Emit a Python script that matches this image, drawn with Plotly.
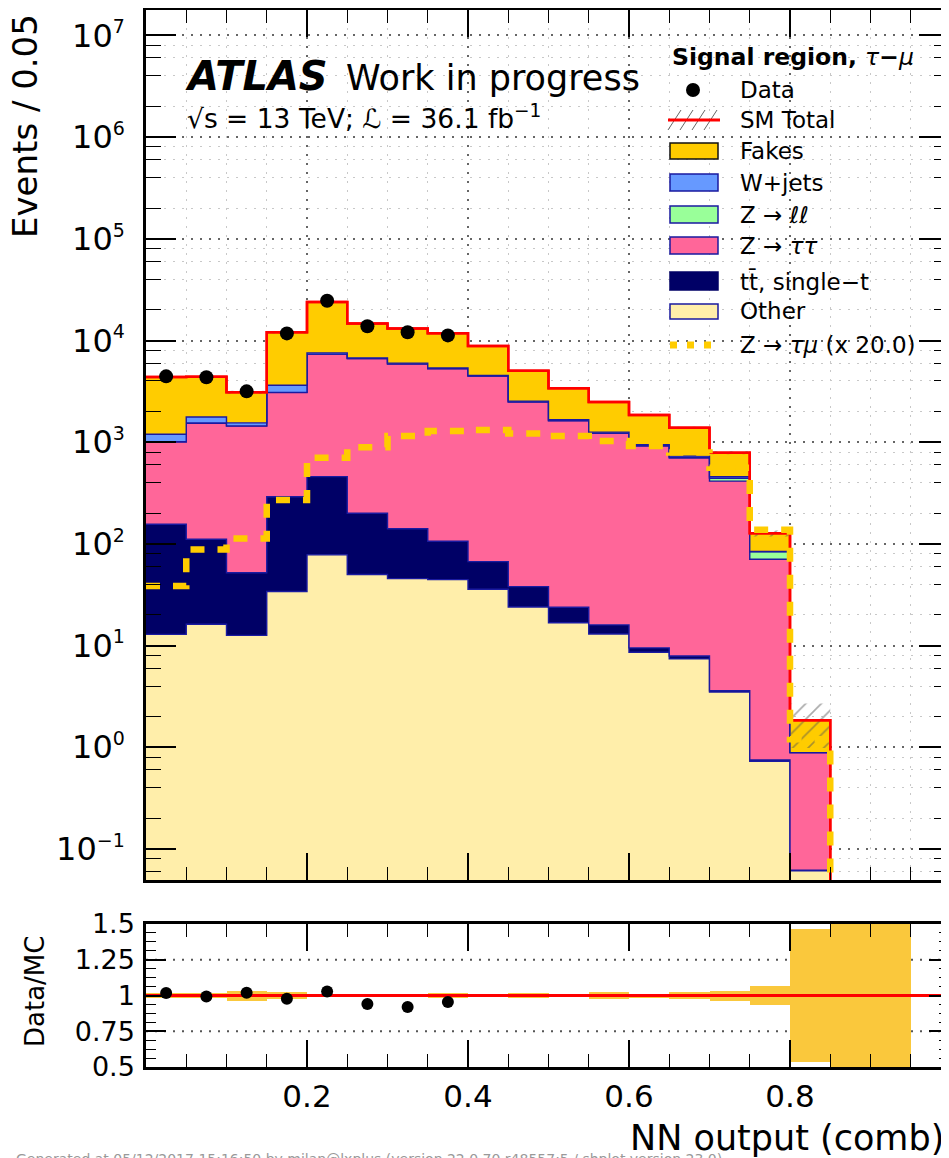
import numpy as np
import plotly.graph_objects as go

# ---------------- data ----------------
bin_edges = [0.00, 0.05, 0.10, 0.15, 0.20, 0.25, 0.30, 0.35, 0.40, 0.45, 0.50,
             0.55, 0.60, 0.65, 0.70, 0.75, 0.80, 0.85, 0.90, 0.95, 1.00]

other = [12.9, 16.2, 12.6, 34, 78, 50, 45.6, 44.5, 35.8, 24, 16.8, 13, 8.6, 7.4, 3.5, 0.73, 0.061, 0, 0, 0]
ttbar = [143, 95, 39.4, 257, 381, 150, 95.4, 61.5, 31.2, 14, 7, 3, 0.9, 0.5, 0.1, 0.02, 0.001, 0, 0, 0]
ztautau = [849, 1424, 1388, 2779, 6851, 6430, 5739, 5164, 4393, 2442, 1596, 1204, 908, 692, 411, 69.9, 0.825, 0, 0, 0]
zll = [8, 10, 8, 20, 30, 25, 20, 18, 15, 12, 10, 10, 8, 10, 27, 13, 0, 0, 0, 0]
wjets = [183, 225, 102, 540, 210, 100, 90, 80, 70, 45, 35, 25, 20, 20, 16, 0.5, 0, 0, 0, 0]
fakes = [3174, 2620, 1550, 8400, 16350, 7945, 7110, 6392, 4285, 2493, 1725, 1230, 904, 660, 332, 42.9, 0.953, 0, 0, 0]

data = [4444, 4359, 3162, 11750, 24570, 13820, 12050, 11220, None, None,
        None, None, None, None, None, None, None, None, None, None]

signal_x20 = [38.5, 88, 113, 270, 705, 890, 1150, 1290, 1320, 1215, 1150, 1025, 918, 790, 560, 138, 1.2, 0, 0, 0]

mc_rel_err = [0.019, 0.019, 0.035, 0.024, 0.009, 0.007, 0.007, 0.02, 0.01, 0.015,
              0.013, 0.025, 0.014, 0.023, 0.035, 0.069, 0.465, 1.0, 1.0, 0.0]

y_tick_vals = [1e-1, 1e0, 1e1, 1e2, 1e3, 1e4, 1e5, 1e6, 1e7]
y_tick_exps = ["−1", "0", "1", "2", "3", "4", "5", "6", "7"]
x_tick_vals = [0.2, 0.4, 0.6, 0.8]
x_tick_text = ["0.2", "0.4", "0.6", "0.8"]
r_tick_vals = [0.5, 0.75, 1.0, 1.25, 1.5]
r_tick_text = ["0.5", "0.75", "1", "1.25", "1.5"]

# ---------------- geometry helpers (page pixels -> paper) ----------------
OFF = 8                      # default body margin of the page
W, H = 949 - OFF, 1158 - OFF
ML, MR = 146 - OFF, 0
MT = 10 - OFF
MB = H - (1067 - OFF)
PW, PH = W - ML - MR, H - MT - MB


def px(x):
    return (x - OFF - ML) / PW


def py(y):
    return (H - MB - (y - OFF)) / PH


FLOOR = 1e-4
FONT = "DejaVu Sans"

centers = [(a + b) / 2 for a, b in zip(bin_edges[:-1], bin_edges[1:])]


def step_y(vals):
    v = [max(float(a), FLOOR) for a in vals]
    return v + [v[-1]]


components = [other, ttbar, ztautau, zll, wjets, fakes]
colors = ["#FFEEAA", "#000066", "#FF6699", "#99FF99", "#6699FF", "#FFCC00"]
cum = np.cumsum(np.array(components, dtype=float), axis=0)
total = cum[-1]

fig = go.Figure()

fig.add_trace(go.Scatter(x=bin_edges, y=[FLOOR] * len(bin_edges), mode="lines",
                         line=dict(width=0), line_shape="hv", hoverinfo="skip",
                         showlegend=False, xaxis="x", yaxis="y"))
for i, (c, col) in enumerate(zip(cum, colors)):
    last = i == len(cum) - 1
    fig.add_trace(go.Scatter(
        x=bin_edges, y=step_y(c), mode="lines", line_shape="hv",
        line=dict(color="#FF0000" if last else "#1a1aa0", width=2.5 if last else 1.4),
        fill="tonexty", fillcolor=col, showlegend=False, xaxis="x", yaxis="y"))

lower = [t * (1 - e) if t > 0 else 0 for t, e in zip(total, mc_rel_err)]
upper = [t * (1 + e) if t > 0 else 0 for t, e in zip(total, mc_rel_err)]
fig.add_trace(go.Scatter(x=bin_edges, y=step_y(lower), mode="lines", line_shape="hv",
                         line=dict(width=0), showlegend=False, xaxis="x", yaxis="y"))
fig.add_trace(go.Scatter(x=bin_edges, y=step_y(upper), mode="lines", line_shape="hv",
                         line=dict(width=0), fill="tonexty", fillcolor="rgba(0,0,0,0)",
                         fillpattern=dict(shape="/", fgcolor="#555555", bgcolor="rgba(0,0,0,0)",
                                          size=11, solidity=0.15),
                         showlegend=False, xaxis="x", yaxis="y"))
fig.add_trace(go.Scatter(x=bin_edges, y=step_y(total), mode="lines", line_shape="hv",
                         line=dict(color="#FF0000", width=2.5), showlegend=False,
                         xaxis="x", yaxis="y"))
fig.add_trace(go.Scatter(x=bin_edges, y=step_y(signal_x20), mode="lines", line_shape="hv",
                         line=dict(color="#FFCC00", width=6.5, dash="14px,13px"),
                         showlegend=False, xaxis="x", yaxis="y"))
fig.add_trace(go.Scatter(x=centers, y=data, mode="markers",
                         marker=dict(color="black", size=14), showlegend=False,
                         xaxis="x", yaxis="y"))

# ---------------- ratio panel ----------------
band_base = [1 - e for e in mc_rel_err]
band_h = [2 * e for e in mc_rel_err]
fig.add_trace(go.Bar(x=centers, y=band_h, base=band_base, width=0.05,
                     marker=dict(color="#FAC83C", line=dict(width=0)),
                     showlegend=False, xaxis="x2", yaxis="y2"))
fig.add_trace(go.Scatter(x=[0, 1], y=[1, 1], mode="lines",
                         line=dict(color="#FF0000", width=3), showlegend=False,
                         xaxis="x2", yaxis="y2"))
ratio = [d / t if (d is not None and t > 0) else None for d, t in zip(data, total)]
fig.add_trace(go.Scatter(x=centers, y=ratio, mode="markers",
                         marker=dict(color="black", size=12), showlegend=False,
                         xaxis="x2", yaxis="y2"))

# ---------------- axes ----------------
minor_log = [k * 10.0 ** n for n in range(-2, 8) for k in (2, 4, 6, 8)]
main_dom = [py(880), 1.0]
ratio_dom = [0.0, py(924)]
xr = [0, (949 - 146) / 805.0]

axis_common = dict(showline=True, linecolor="black", linewidth=2.5, mirror="ticks",
                   ticks="inside", tickcolor="black", zeroline=False)

fig.update_layout(
    width=W, height=H, margin=dict(l=ML, r=MR, t=MT, b=MB, autoexpand=False),
    paper_bgcolor="white", plot_bgcolor="white",
    font=dict(family=FONT, color="black"),
    bargap=0,
    xaxis=dict(domain=[0, 1], anchor="y", range=xr, showticklabels=False,
               tickvals=[0.0, 0.2, 0.4, 0.6, 0.8, 1.0], ticklen=27, tickwidth=1.5,
               showgrid=True, gridcolor="#666666", griddash="2px,7px", gridwidth=1.5,
               minor=dict(dtick=0.05, tick0=0, ticklen=13, tickwidth=1.2, ticks="inside",
                          tickcolor="black", showgrid=True, gridcolor="#c8c8c8",
                          griddash="2px,7px", gridwidth=1.2),
               **axis_common),
    yaxis=dict(domain=main_dom, anchor="x", type="log", range=[-1.305, 7.25],
               tickvals=y_tick_vals,
               ticktext=[f"10<sup><span style='font-size:19px'>{e}</span></sup>" for e in y_tick_exps],
               tickfont=dict(size=32, family=FONT), ticklen=30, tickwidth=1.5,
               ticklabelstandoff=12,
               showgrid=True, gridcolor="#666666", griddash="2px,7px", gridwidth=1.5,
               minor=dict(tickmode="array", tickvals=minor_log, ticklen=15, tickwidth=1.2,
                          ticks="inside", tickcolor="black", showgrid=True,
                          gridcolor="#c8c8c8", griddash="2px,7px", gridwidth=1.2),
               **axis_common),
    xaxis2=dict(domain=[0, 1], anchor="y2", matches="x", range=xr,
                tickvals=x_tick_vals, ticktext=x_tick_text,
                tickfont=dict(size=31, family=FONT), ticklen=27, tickwidth=1.5,
                ticklabelstandoff=0, showgrid=False,
                minor=dict(dtick=0.05, tick0=0, ticklen=13, tickwidth=1.2, ticks="inside",
                           tickcolor="black", showgrid=False),
                **axis_common),
    yaxis2=dict(domain=ratio_dom, anchor="x2", range=[0.5, 1.5],
                tickvals=r_tick_vals, ticktext=r_tick_text,
                tickfont=dict(size=27, family=FONT), ticklen=20, tickwidth=1.5,
                ticklabelstandoff=3, showgrid=False,
                minor=dict(dtick=0.0625, tick0=0.5, ticklen=10, tickwidth=1.2,
                           ticks="inside", tickcolor="black", showgrid=False),
                **axis_common),
)

shapes = []
for yv in (0.75, 1.25):
    shapes.append(dict(type="line", xref="paper", x0=0, x1=1, yref="y2", y0=yv, y1=yv,
                       line=dict(color="#555555", width=1.8, dash="2px,7px"), layer="below"))

# ---------------- manual legend ----------------
LX0, LX1 = 670, 718
TX = 738


def rect(y0, y1, fill, edge, lw=1.5):
    shapes.append(dict(type="rect", xref="paper", yref="paper",
                       x0=px(LX0), x1=px(LX1), y0=py(y1), y1=py(y0),
                       fillcolor=fill, line=dict(color=edge, width=lw), layer="above"))


shapes.append(dict(type="circle", xref="paper", yref="paper",
                   x0=px(693 - 7), x1=px(693 + 7), y0=py(90 + 7), y1=py(90 - 7),
                   fillcolor="black", line=dict(color="black", width=0)))
for hx in (668, 680, 692, 704):
    shapes.append(dict(type="line", xref="paper", yref="paper",
                       x0=px(hx), x1=px(hx + 13), y0=py(130), y1=py(110),
                       line=dict(color="#666666", width=1)))
shapes.append(dict(type="line", xref="paper", yref="paper", x0=px(668), x1=px(720),
                   y0=py(120), y1=py(120), line=dict(color="#FF0000", width=3)))
rect(143, 159, "#FFCC00", "#111111")
rect(174, 191, "#6699FF", "#1a1aa0")
rect(206, 223, "#99FF99", "#1a1aa0")
rect(237, 254, "#FF6699", "#1a1aa0")
rect(272, 290, "#000066", "#000066")
rect(304, 319, "#FFEEAA", "#1a1aa0")
shapes.append(dict(type="line", xref="paper", yref="paper", x0=px(670), x1=px(714),
                   y0=py(345), y1=py(345),
                   line=dict(color="#FFCC00", width=7, dash="7px,10px")))

legend_rows = [
    ("Data", 90), ("SM Total", 120), ("Fakes", 151), ("W+jets", 182.5),
    ("Z → <i>ℓℓ</i>", 214.5), ("Z → <i>ττ</i>", 245.5), ("tt\u0304, single−t", 281),
    ("Other", 311), ("Z → <i>τμ</i> (x 20.0)", 345),
]

annotations = []
for txt, yy in legend_rows:
    annotations.append(dict(text=txt, xref="paper", yref="paper", x=px(TX), y=py(yy),
                            xanchor="left", yanchor="middle", showarrow=False,
                            font=dict(size=23, family=FONT, color="black")))
annotations.append(dict(text="<b>Signal region, </b><i>τ</i><b>−</b><i>μ</i>",
                        xref="paper", yref="paper", x=px(670), y=py(57),
                        xanchor="left", yanchor="middle", showarrow=False,
                        font=dict(size=23.5, family=FONT, color="black")))

annotations.append(dict(text="<b><i>ATLAS</i></b>", xref="paper", yref="paper",
                        x=px(183), y=py(76), xanchor="left", yanchor="middle",
                        showarrow=False, font=dict(size=40, family=FONT, color="black")))
annotations.append(dict(text="Work in progress", xref="paper", yref="paper",
                        x=px(344), y=py(78), xanchor="left", yanchor="middle",
                        showarrow=False, font=dict(size=35, family=FONT, color="black")))
annotations.append(dict(text="√s = 13 TeV; ℒ = 36.1 fb<sup>−1</sup>", xref="paper", yref="paper",
                        x=px(185), y=py(117), xanchor="left", yanchor="middle",
                        showarrow=False, font=dict(size=26.5, family=FONT, color="black")))

annotations.append(dict(text="Events / 0.05", xref="paper", yref="paper",
                        x=px(25), y=py(12), xanchor="center", yanchor="top",
                        textangle=-90, showarrow=False,
                        font=dict(size=34, family=FONT, color="black")))
annotations.append(dict(text="Data/MC", xref="paper", yref="paper",
                        x=px(35), y=py(992), xanchor="center", yanchor="middle",
                        textangle=-90, showarrow=False,
                        font=dict(size=26, family=FONT, color="black")))
annotations.append(dict(text="NN output (comb)", xref="paper", yref="paper",
                        x=px(946), y=py(1138), xanchor="right", yanchor="middle",
                        showarrow=False, font=dict(size=35, family=FONT, color="black")))
annotations.append(dict(text="Generated at 05/12/2017 15:16:50 by milan@lxplus (version 22.0.70 r48557:5 / shplot version 23.0)",
                        xref="paper", yref="paper", x=px(14), y=py(1149),
                        xanchor="left", yanchor="top", showarrow=False,
                        font=dict(size=14, family=FONT, color="#999999")))

fig.update_layout(shapes=shapes, annotations=annotations)

fig.write_html("out.html")
